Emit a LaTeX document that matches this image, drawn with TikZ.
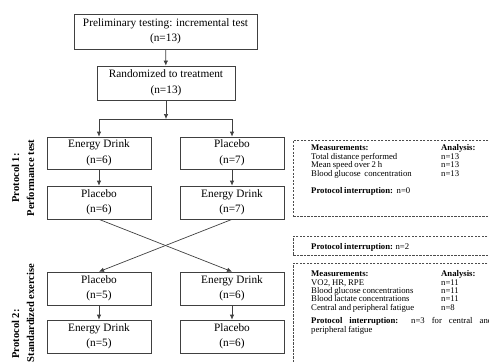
\documentclass[tikz,border=0pt]{standalone}
\usepackage{fontspec}
\setmainfont{Liberation Serif}
\usetikzlibrary{arrows.meta}
\newcommand\mysmalltxt{\fontsize{8.7}{8.6}\selectfont\spaceskip 1.8pt plus 1pt minus 0.3pt\relax}
\begin{document}
\begin{tikzpicture}[x=1pt,y=-1pt,
  box/.style={draw=black!75, line width=0.7pt, inner sep=0pt, align=center, font=\fontsize{11.3}{15.5}\selectfont},
  arr/.style={draw=black!75, line width=0.7pt, -{Latex[length=5pt,width=4.5pt]}},
  dbox/.style={draw=black!70, line width=0.6pt, dash pattern=on 2.2pt off 1.3pt, inner sep=0pt, anchor=north west},
  txt/.style={anchor=base west, inner sep=0pt, font=\mysmalltxt},
  lab/.style={rotate=90, inner sep=0pt, align=center, font=\bfseries\fontsize{10.5}{15}\selectfont}]

\useasboundingbox (0,0) rectangle (489,361);
\clip (0,0) rectangle (489,361);

% flow boxes
\node[box, minimum width=183, minimum height=35] (pre) at (165.5,31.5) {Preliminary testing: incremental test\\(n=13)};
\node[box, minimum width=138, minimum height=34] (rand) at (166,83) {Randomized to treatment\\(n=13)};
\node[box, minimum width=104, minimum height=32] (a1) at (99,153) {Energy Drink\\(n=6)};
\node[box, minimum width=104, minimum height=32] (b1) at (232,153) {Placebo\\(n=7)};
\node[box, minimum width=104, minimum height=33] (a2) at (99,202.5) {Placebo\\(n=6)};
\node[box, minimum width=104, minimum height=33] (b2) at (232,202.5) {Energy Drink\\(n=7)};
\node[box, minimum width=104, minimum height=33] (a3) at (99,288.5) {Placebo\\(n=5)};
\node[box, minimum width=104, minimum height=33] (b3) at (232,288.5) {Energy Drink\\(n=6)};
\node[box, minimum width=104, minimum height=33] (a4) at (99,336.5) {Energy Drink\\(n=5)};
\node[box, minimum width=104, minimum height=33] (b4) at (232,336.5) {Placebo\\(n=6)};

% connectors
\coordinate (split) at (166,119);
\draw[arr] (pre) -- (rand);
\draw[arr] (rand) -- (split);
\draw[arr] (split) -| (a1);
\draw[arr] (split) -| (b1);
\draw[arr] (a1) -- (a2);
\draw[arr] (b1) -- (b2);
\draw[arr] (a2.south) -- (b3.north);
\draw[arr] (b2.south) -- (a3.north);
\draw[arr] (a3) -- (a4);
\draw[arr] (b3) -- (b4);

% side labels
\node[lab] (p1) at (23,178) {Protocol 1:\\Performance test};
\node[lab] (p2a) at (15.5,334) {Protocol 2:};
\node[lab] (p2b) at (30.5,313) {Standardized exercise};

% dashed boxes
\node[dbox, minimum width=210, minimum height=76] (d1) at (293,140) {};
\node[dbox, minimum width=210, minimum height=19] (d2) at (293,236) {};
\node[dbox, minimum width=210, minimum height=110] (d3) at (293,263) {};

% box 1 text
\node[txt] (m1h) at (311,150.3) {\textbf{Measurements:}};
\node[txt] (m1ha) at (441,150.3) {\textbf{Analysis:}};
\node[txt] (m1r1) at (311,159) {Total distance performed};
\node[txt] (m1n1) at (441,159) {n=13};
\node[txt] (m1r2) at (311,167.7) {Mean speed over 2 h};
\node[txt] (m1n2) at (441,167.7) {n=13};
\node[txt] (m1r3) at (311,176.3) {Blood glucose\ \ concentration};
\node[txt] (m1n3) at (441,176.3) {n=13};
\node[txt] (m1p) at (311,193) {\textbf{Protocol interruption:}\ \ n=0};

% box 2 text
\node[txt] (m2p) at (311,249) {\textbf{Protocol interruption:} n=2};

% box 3 text
\node[txt] (m3h) at (311,276) {\textbf{Measurements:}};
\node[txt] (m3ha) at (441,276) {\textbf{Analysis:}};
\node[txt] (m3r1) at (311,285) {VO2, HR, RPE};
\node[txt] (m3n1) at (441,285) {n=11};
\node[txt] (m3r2) at (311,293.7) {Blood glucose concentrations};
\node[txt] (m3n2) at (441,293.7) {n=11};
\node[txt] (m3r3) at (311,301.7) {Blood lactate concentrations};
\node[txt] (m3n3) at (441,301.7) {n=11};
\node[txt] (m3r4) at (311,310.3) {Central and peripheral fatigue};
\node[txt] (m3n4) at (441,310.3) {n=8};
\node[txt] (m3p1) at (311,323.7) {\makebox[181pt][s]{\textbf{Protocol interruption:} n=3 for central and}};
\node[txt] (m3p2) at (311,332.3) {peripheral fatigue};
\end{tikzpicture}
\end{document}
